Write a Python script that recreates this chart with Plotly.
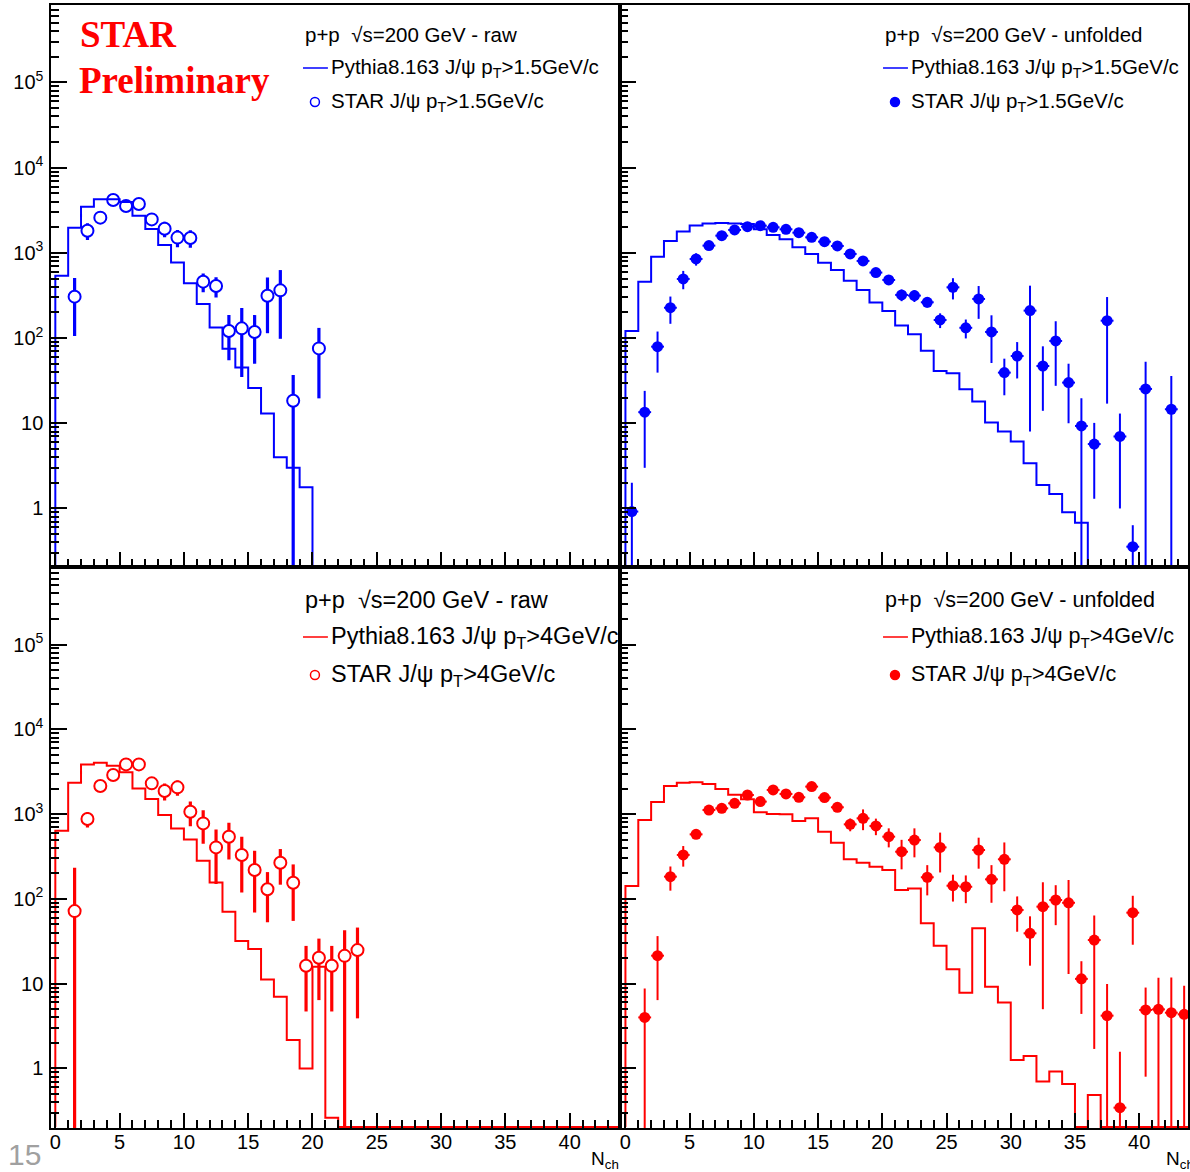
import plotly.graph_objects as go

W, H = 1190, 1172

# ---------------- data ----------------
# Pythia histograms: bin contents for bins [0,1), [1,2), ...
pythia_raw_pt15 = [540, 1975, 3480, 4250, 4250, 3955, 2730, 1905, 1235, 773, 439, 251, 133,
                   75, 45, 26, 13, 4.0, 3.0, 1.77]
pythia_unf_pt15 = [121, 459, 903, 1381, 1776, 2090, 2205, 2245, 2205, 2180, 1892, 1623, 1442,
                   1162, 970, 767, 631, 472, 367, 261, 208, 140, 111, 71, 41, 38.6, 25, 18,
                   10.2, 8.0, 6.1, 3.39, 1.89, 1.48, 0.90, 0.68]
pythia_raw_pt4 = [637, 2344, 3855, 4034, 3720, 3105, 2010, 1503, 974, 678, 503, 282, 156,
                  70.5, 31.8, 25.6, 11.2, 7.0, 2.16, 1.0, 15.8, 0.262]
pythia_unf_pt4 = [142, 851, 1387, 2144, 2349, 2370, 2265, 1977, 1695, 1493, 1048, 1002, 993,
                  829, 892, 621, 460, 293, 267, 240, 219, 127, 133, 51.5, 28.1, 14.8, 7.8,
                  45, 9.2, 5.98, 1.26, 1.4, 0.70, 0.92, 0.656, 0, 0.487]

# STAR data points
star_raw_pt15_x = [1.5, 2.5, 3.5, 4.5, 5.5, 6.5, 7.5, 8.5, 9.5, 10.5, 11.5, 12.5, 13.5, 14.5,
                   15.5, 16.5, 17.5, 18.5, 20.5]
star_raw_pt15_y = [306, 1820, 2590, 4170, 3550, 3740, 2470, 1920, 1510, 1495, 459, 408, 121,
                   130, 118, 314, 363, 18.4, 75.6]
star_raw_pt15_err = [200, 400, 415, 200, 470, 455, 400, 400, 350, 350, 115, 108, 66, 95, 68,
                     200, 265, 18.4, 56]

star_unf_pt15_x = [0.5, 1.5, 2.5, 3.5, 4.5, 5.5, 6.5, 7.5, 8.5, 9.5, 10.5, 11.5, 12.5, 13.5,
                   14.5, 15.5, 16.5, 17.5, 18.5, 19.5, 20.5, 21.5, 22.5, 23.5, 24.5, 25.5,
                   26.5, 27.5, 28.5, 29.5, 30.5, 31.5, 32.5, 33.5, 34.5, 35.5, 36.5, 37.5,
                   38.5, 39.5, 40.5, 42.5]
star_unf_pt15_y = [0.92, 13.5, 79.3, 227, 494, 848, 1216, 1592, 1857, 2031, 2086, 1995, 1890,
                   1726, 1521, 1354, 1205, 971, 804, 587, 481, 321, 315, 263, 163, 394, 132,
                   288, 118, 39.3, 61.6, 210, 47, 92.5, 30, 9.3, 5.7, 160, 7.0, 0.356, 25.3,
                   14.6]
star_unf_pt15_err = [1.09, 10.5, 40, 80, 120, 140, 100, 110, 120, 120, 120, 120, 120, 110,
                     100, 95, 90, 80, 75, 60, 55, 50, 50, 35, 32, 110, 33, 120, 67, 18, 28,
                     202, 33, 65, 20, 10.3, 4.4, 143, 6, 0.28, 27.5, 21.3]

star_raw_pt4_x = [1.5, 2.5, 3.5, 4.5, 5.5, 6.5, 7.5, 8.5, 9.5, 10.5, 11.5, 12.5, 13.5, 14.5,
                  15.5, 16.5, 17.5, 18.5, 19.5, 20.5, 21.5, 22.5, 23.5]
star_raw_pt4_y = [71.8, 874, 2142, 2885, 3855, 3855, 2303, 1870, 2066, 1066, 777, 405, 541,
                  329, 219, 130, 267, 155, 16.3, 20.2, 16.3, 21.3, 24.9]
star_raw_pt4_err = [161, 180, 250, 250, 300, 300, 250, 420, 420, 345, 330, 255, 250, 210, 150,
                    77, 120, 100, 11.6, 13.8, 11.6, 21.3, 21]

star_unf_pt4_x = [1.5, 2.5, 3.5, 4.5, 5.5, 6.5, 7.5, 8.5, 9.5, 10.5, 11.5, 12.5, 13.5, 14.5,
                  15.5, 16.5, 17.5, 18.5, 19.5, 20.5, 21.5, 22.5, 23.5, 24.5, 25.5, 26.5,
                  27.5, 28.5, 29.5, 30.5, 31.5, 32.5, 33.5, 34.5, 35.5, 36.5, 37.5, 38.5,
                  39.5, 40.5, 41.5, 42.5, 43.5]
star_unf_pt4_y = [4.0, 21.4, 183, 330, 577, 1117, 1169, 1340, 1680, 1403, 1927, 1729, 1578,
                  2109, 1564, 1203, 757, 891, 724, 542, 360, 494, 180, 405, 143, 139, 377,
                  170, 293, 74, 39.3, 81, 97, 90, 11.4, 32.7, 4.2, 0.345, 68.8, 4.9, 4.98,
                  4.55, 4.35]
star_unf_pt4_err = [4.8, 15, 58, 90, 60, 70, 70, 80, 100, 90, 110, 100, 100, 120, 100, 90,
                    130, 245, 160, 137, 137, 185, 70, 200, 50, 50, 150, 80, 170, 33, 23, 76,
                    48, 77, 7, 31, 5.7, 1.23, 40, 4.1, 6.8, 7.3, 5.1]

x_tick_vals = [0, 5, 10, 15, 20, 25, 30, 35, 40]
x_tick_text = ["0", "5", "10", "15", "20", "25", "30", "35", "40"]
y_tick_vals = [1, 10, 100, 1000, 10000, 100000]
y_tick_text = ["1", "10", "10<sup>2</sup>", "10<sup>3</sup>", "10<sup>4</sup>", "10<sup>5</sup>"]

BLUE = "rgb(0,0,255)"
RED = "rgb(255,0,0)"
NBINS = 44

# ---------------- layout geometry (pixels) ----------------
FX_L0, FX_MID, FX_R1 = 49.5, 620.0, 1190.0
FY_T0, FY_MID, FY_B1 = 5.0, 567.0, 1128.0
X_RANGE_L = [-0.31, 43.91]
X_RANGE_R = [-0.43, 43.8]
Y_RANGE_T = [-0.687, 5.909]
Y_RANGE_B = [-0.702, 5.914]


def pxx(p):
    return p / W


def pxy(p):
    return 1 - p / H


fig = go.Figure()


def hist_trace(vals, color, xa, ya, floor):
    v = list(vals) + [0] * (NBINS - len(vals))
    v = [floor if val <= 0 else val for val in v]
    xs = [0] + list(range(0, NBINS + 1))
    ys = [floor] + v + [v[-1]]
    return go.Scatter(x=xs, y=ys, mode="lines", line=dict(color=color, width=2, shape="hv"),
                      xaxis=xa, yaxis=ya, showlegend=False, hoverinfo="skip",
                      cliponaxis=True)


def raw_points(x, y, err, color, xa, ya):
    return go.Scatter(x=x, y=y, mode="markers",
                      marker=dict(symbol="circle", size=12, color="white",
                                  line=dict(color=color, width=2)),
                      error_y=dict(type="data", array=err, symmetric=True, thickness=3.2,
                                   width=0, color=color),
                      xaxis=xa, yaxis=ya, showlegend=False)


def unf_points(x, y, err, color, xa, ya):
    return go.Scatter(x=x, y=y, mode="markers",
                      marker=dict(symbol="circle", size=11, color=color,
                                  line=dict(color=color, width=0)),
                      error_y=dict(type="data", array=err, symmetric=True, thickness=2,
                                   width=0, color=color),
                      error_x=dict(type="constant", value=0.5, thickness=2, width=0,
                                   color=color),
                      xaxis=xa, yaxis=ya, showlegend=False)


floor_t = 10 ** (Y_RANGE_T[0] + 0.012)
floor_b = 10 ** (Y_RANGE_B[0] + 0.012)

# top-left: raw pT>1.5
fig.add_trace(raw_points(star_raw_pt15_x, star_raw_pt15_y, star_raw_pt15_err, BLUE, "x", "y"))
fig.add_trace(hist_trace(pythia_raw_pt15, BLUE, "x", "y", floor_t))
# top-right: unfolded pT>1.5
fig.add_trace(hist_trace(pythia_unf_pt15, BLUE, "x2", "y2", floor_t))
fig.add_trace(unf_points(star_unf_pt15_x, star_unf_pt15_y, star_unf_pt15_err, BLUE, "x2", "y2"))
# bottom-left: raw pT>4
fig.add_trace(raw_points(star_raw_pt4_x, star_raw_pt4_y, star_raw_pt4_err, RED, "x3", "y3"))
fig.add_trace(hist_trace(pythia_raw_pt4, RED, "x3", "y3", floor_b))
# bottom-right: unfolded pT>4
fig.add_trace(hist_trace(pythia_unf_pt4, RED, "x4", "y4", floor_b))
fig.add_trace(unf_points(star_unf_pt4_x, star_unf_pt4_y, star_unf_pt4_err, RED, "x4", "y4"))

minor_y = [m * 10 ** e for e in range(-1, 6) for m in range(2, 10)]
SANS = "Liberation Sans, Arial, sans-serif"
TICKFONT = dict(family=SANS, size=20, color="black")


def xaxis(domain, rng, anchor, labels):
    return dict(domain=domain, range=rng, anchor=anchor, showgrid=False, zeroline=False,
                showline=True, linecolor="black", linewidth=2, mirror=True,
                ticks="inside", ticklen=15, tickwidth=1.5, tickcolor="black",
                tickmode="array", tickvals=x_tick_vals, ticktext=x_tick_text,
                showticklabels=labels, tickfont=TICKFONT, ticklabelstandoff=-5,
                minor=dict(ticks="inside", ticklen=8, tickwidth=1.5, tickcolor="black",
                           dtick=1, tick0=0, showgrid=False))


def yaxis(domain, rng, anchor, labels):
    return dict(domain=domain, range=rng, anchor=anchor, type="log", showgrid=False,
                zeroline=False, showline=True, linecolor="black", linewidth=2, mirror=True,
                ticks="inside", ticklen=16, tickwidth=1.5, tickcolor="black",
                tickmode="array", tickvals=y_tick_vals, ticktext=y_tick_text,
                showticklabels=labels,
                tickfont=dict(family=SANS, size=20, color="black"),
                ticklabelstandoff=2,
                minor=dict(ticks="inside", ticklen=8, tickwidth=1.5, tickcolor="black",
                           tickmode="array", tickvals=minor_y, showgrid=False))


dx_l = [pxx(FX_L0), pxx(FX_MID)]
dx_r = [pxx(FX_MID), pxx(FX_R1)]
dy_t = [pxy(FY_MID), pxy(FY_T0)]
dy_b = [pxy(FY_B1), pxy(FY_MID)]

fig.update_layout(
    width=W, height=H, margin=dict(l=0, r=0, t=0, b=0),
    paper_bgcolor="white", plot_bgcolor="white", showlegend=False,
    xaxis=xaxis(dx_l, X_RANGE_L, "y", False),
    yaxis=yaxis(dy_t, Y_RANGE_T, "x", True),
    xaxis2=xaxis(dx_r, X_RANGE_R, "y2", False),
    yaxis2=yaxis(dy_t, Y_RANGE_T, "x2", False),
    xaxis3=xaxis(dx_l, X_RANGE_L, "y3", True),
    yaxis3=yaxis(dy_b, Y_RANGE_B, "x3", True),
    xaxis4=xaxis(dx_r, X_RANGE_R, "y4", True),
    yaxis4=yaxis(dy_b, Y_RANGE_B, "x4", False),
)

annotations = []
shapes = []


def text(x, y, s, size, color="black", family=SANS, xanchor="left", yanchor="middle"):
    annotations.append(dict(x=pxx(x), y=pxy(y), xref="paper", yref="paper", text=s,
                            showarrow=False, xanchor=xanchor, yanchor=yanchor,
                            font=dict(family=family, size=size, color=color)))


def legend_block(x0, ys, size, color, title, pythia, star, filled):
    text(x0, ys[0], title, size)
    shapes.append(dict(type="line", xref="paper", yref="paper",
                       x0=pxx(x0), x1=pxx(x0 + 25), y0=pxy(ys[1]), y1=pxy(ys[1]),
                       line=dict(color=color, width=1.5)))
    text(x0 + 26, ys[1], pythia, size)
    r = 4.5
    cx = x0 + 12
    shapes.append(dict(type="circle", xref="paper", yref="paper",
                       x0=pxx(cx - r), x1=pxx(cx + r), y0=pxy(ys[2] + r), y1=pxy(ys[2] - r),
                       line=dict(color=color, width=1.5),
                       fillcolor=color if filled else "rgba(0,0,0,0)"))
    text(x0 + 26, ys[2], star, size)


PSI = "J/ψ"
legend_block(302, [35, 68, 102], 20.5, BLUE, "p+p  √s=200 GeV - raw",
             f"Pythia8.163 {PSI} p<sub>T</sub>&gt;1.5GeV/c", f"STAR {PSI} p<sub>T</sub>&gt;1.5GeV/c",
             False)
legend_block(884, [35, 68, 102], 20.5, BLUE, "p+p  √s=200 GeV - unfolded",
             f"Pythia8.163 {PSI} p<sub>T</sub>&gt;1.5GeV/c", f"STAR {PSI} p<sub>T</sub>&gt;1.5GeV/c",
             True)
legend_block(302, [600, 637, 675], 23.5, RED, "p+p  √s=200 GeV - raw",
             f"Pythia8.163 {PSI} p<sub>T</sub>&gt;4GeV/c", f"STAR {PSI} p<sub>T</sub>&gt;4GeV/c",
             False)
legend_block(884, [600, 637, 675], 21.5, RED, "p+p  √s=200 GeV - unfolded",
             f"Pythia8.163 {PSI} p<sub>T</sub>&gt;4GeV/c", f"STAR {PSI} p<sub>T</sub>&gt;4GeV/c",
             True)

SERIF = "Liberation Serif, Times New Roman, serif"
text(76, 35, "<b>STAR</b>", 37, RED, SERIF)
text(75, 81, "<b>Preliminary</b>", 37, RED, SERIF)

text(589, 1160, "N<sub>ch</sub>", 19)
text(1166, 1160, "N<sub>ch</sub>", 19)
text(4, 1154, "15", 30, "rgb(160,160,160)")

fig.update_layout(annotations=annotations, shapes=shapes)
fig.write_html("out.html")
